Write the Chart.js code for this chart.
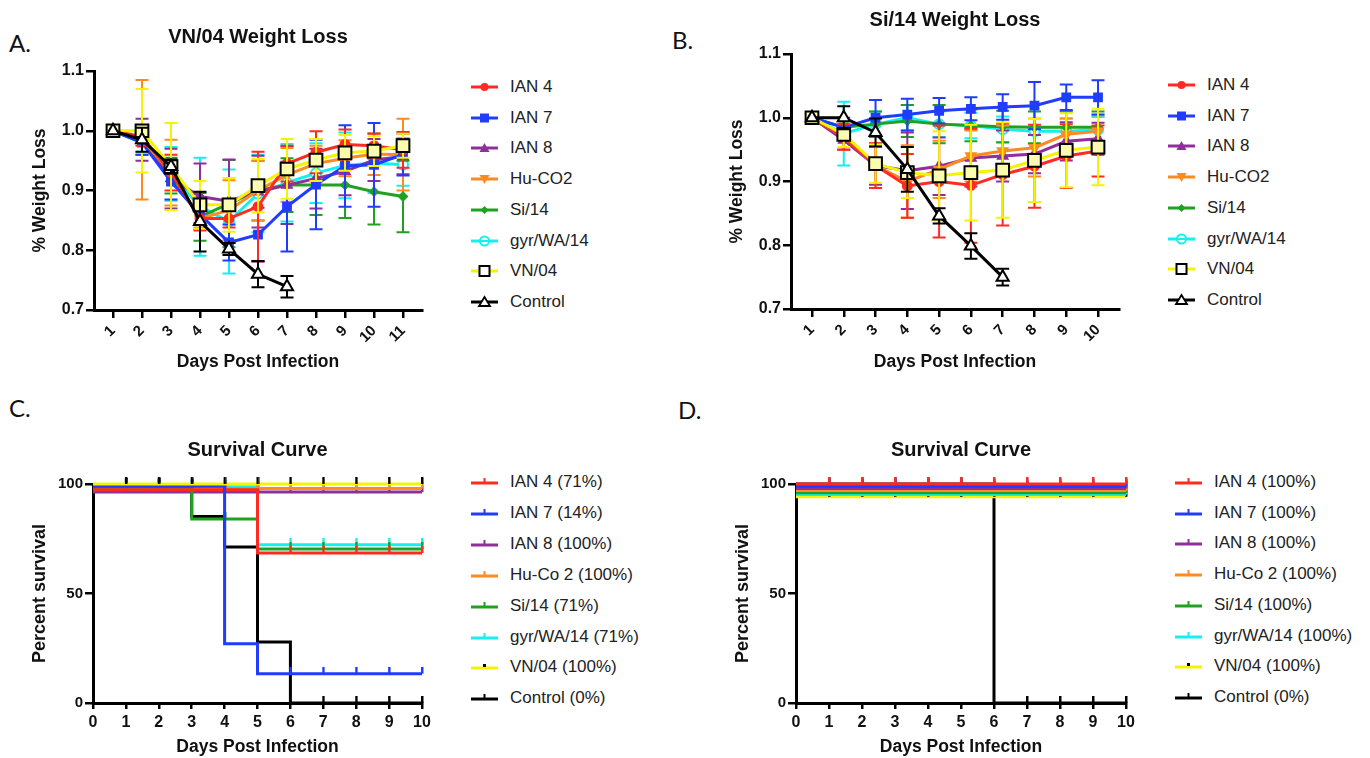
<!DOCTYPE html>
<html><head><meta charset="utf-8">
<script src="https://cdn.jsdelivr.net/npm/chart.js@4/dist/chart.umd.min.js"></script>
<style>
html,body{margin:0;padding:0;background:#fff;}
#page{position:relative;width:1370px;height:758px;overflow:hidden;font-family:'Liberation Sans',Arial,Helvetica,sans-serif;}
canvas{position:absolute;}
.letter{position:absolute;font-family:Lato,'Open Sans',sans-serif;font-size:24px;line-height:24px;color:#111;}
.lg-row{position:absolute;height:20px;display:flex;align-items:center;white-space:nowrap;font-size:17px;color:#222;}
.lg-row svg{margin-right:12px;flex:none;}
</style></head>
<body><div id="page">
<div class="letter" style="left:9px;top:31px">A.</div>
<div class="letter" style="left:672px;top:28px">B.</div>
<div class="letter" style="left:9px;top:396px">C.</div>
<div class="letter" style="left:678px;top:398px">D.</div>
<canvas id="cA" width="440" height="380" style="left:0;top:0"></canvas>
<canvas id="cB" width="450" height="380" style="left:680px;top:0"></canvas>
<canvas id="cC" width="440" height="368" style="left:0;top:390px"></canvas>
<canvas id="cD" width="450" height="368" style="left:690px;top:390px"></canvas>
<div id="legA"></div><div id="legB"></div><div id="legC"></div><div id="legD"></div>
</div>
<script>
// ================= DATA =================
const seriesNames = ['IAN 4','IAN 7','IAN 8','Hu-CO2','Si/14','gyr/WA/14','VN/04','Control'];
const survNamesC = ['IAN 4 (71%)','IAN 7 (14%)','IAN 8 (100%)','Hu-Co 2 (100%)','Si/14 (71%)','gyr/WA/14 (71%)','VN/04 (100%)','Control (0%)'];
const survNamesD = ['IAN 4 (100%)','IAN 7 (100%)','IAN 8 (100%)','Hu-Co 2 (100%)','Si/14 (100%)','gyr/WA/14 (100%)','VN/04 (100%)','Control (0%)'];

const titleA = 'VN/04 Weight Loss';
const titleB = 'Si/14 Weight Loss';
const titleSurv = 'Survival Curve';
const xTitle = 'Days Post Infection';
const yTitleWeight = '% Weight Loss';
const yTitleSurv = 'Percent survival';

const daysA = [1,2,3,4,5,6,7,8,9,10,11];
const daysB = [1,2,3,4,5,6,7,8,9,10];
const daysSurv = [0,1,2,3,4,5,6,7,8,9,10];
const yTicksWeight = [0.7,0.8,0.9,1.0,1.1];
const yTickLabelsWeight = ['0.7','0.8','0.9','1.0','1.1'];
const yTicksSurv = [0,50,100];
const yTickLabelsSurv = ['0','50','100'];

// Panel A: VN/04 weight loss (mean, error)
const ian4A  = [1.000,0.990,0.930,0.853,0.853,0.873,0.945,0.964,0.977,0.975,0.968];
const ian4AErr = [0,0.015,0.03,0.02,0.015,0.092,0.03,0.035,0.025,0.02,0.03];
const ian7A  = [1.000,0.980,0.915,0.860,0.813,0.826,0.873,0.910,0.941,0.943,0.960];
const ian7AErr = [0,0.02,0.03,0.015,0.03,0.045,0.075,0.075,0.068,0.07,0.035];
const ian8A  = [1.000,0.985,0.920,0.890,0.882,0.898,0.909,0.920,0.932,0.951,0.957];
const ian8AErr = [0,0.035,0.05,0.055,0.07,0.06,0.065,0.05,0.04,0.035,0.03];
const huA    = [1.000,0.985,0.930,0.853,0.867,0.900,0.926,0.945,0.954,0.961,0.960];
const huAErr = [0,0.1,0.055,0.015,0.05,0.05,0.045,0.03,0.03,0.035,0.06];
const siA    = [1.000,0.980,0.925,0.856,0.878,0.900,0.909,0.909,0.909,0.898,0.890];
const siAErr = [0,0.02,0.03,0.04,0.073,0.05,0.045,0.05,0.055,0.055,0.06];
const gyrA   = [1.000,0.985,0.928,0.873,0.848,0.895,0.913,0.929,0.942,0.946,0.943];
const gyrAErr = [0,0.02,0.045,0.082,0.087,0.065,0.065,0.05,0.055,0.05,0.035];
const vnA    = [1.000,1.000,0.940,0.876,0.876,0.908,0.936,0.951,0.963,0.966,0.975];
const vnAErr = [0,0.07,0.073,0.04,0.045,0.045,0.05,0.035,0.03,0.025,0.02];
const ctrlA  = [1.000,0.985,0.940,0.848,0.802,0.760,0.739];
const ctrlAErr = [0,0.02,0.012,0.05,0.01,0.022,0.018];

// Panel B: Si/14 weight loss
const ian4B  = [1.000,0.970,0.925,0.893,0.900,0.894,0.911,0.924,0.940,0.948];
const ian4BErr = [0,0.02,0.035,0.05,0.088,0.09,0.08,0.065,0.05,0.04];
const ian7B  = [1.000,0.985,1.000,1.005,1.011,1.014,1.017,1.019,1.032,1.032];
const ian7BErr = [0,0.015,0.028,0.025,0.02,0.018,0.02,0.037,0.02,0.027];
const ian8B  = [1.000,0.965,0.925,0.917,0.924,0.937,0.940,0.943,0.963,0.967];
const ian8BErr = [0,0.015,0.03,0.06,0.045,0.045,0.04,0.03,0.03,0.025];
const huB    = [1.000,0.970,0.925,0.900,0.919,0.940,0.948,0.953,0.974,0.979];
const huBErr = [0,0.02,0.035,0.057,0.045,0.04,0.04,0.045,0.025,0.025];
const siB    = [1.000,0.985,0.990,0.995,0.990,0.988,0.986,0.985,0.985,0.985];
const siBErr = [0,0.01,0.02,0.025,0.03,0.025,0.025,0.025,0.025,0.025];
const gyrB   = [1.000,0.975,0.990,1.000,0.990,0.988,0.982,0.979,0.979,0.981];
const gyrBErr = [0,0.05,0.02,0.02,0.02,0.02,0.02,0.02,0.02,0.02];
const vnB    = [1.000,0.974,0.928,0.914,0.909,0.914,0.918,0.933,0.949,0.954];
const vnBErr = [0,0.02,0.03,0.04,0.07,0.075,0.075,0.065,0.058,0.06];
const ctrlB  = [1.000,1.000,0.977,0.919,0.846,0.799,0.750];
const ctrlBErr = [0,0.018,0.022,0.035,0.012,0.02,0.013];

// Panel C: survival (as drawn, with small plot offsets)
const ian4C = [97.4,97.4,97.4,97.4,97.4,68.5,68.5,68.5,68.5,68.5,68.5];
const ian7C = [99,99,99,99,27.1,13.4,13.4,13.4,13.4,13.4,13.4];
const ian8C = [96.3,96.3,96.3,96.3,96.3,96.3,96.3,96.3,96.3,96.3,96.3];
const huC   = [97.9,97.9,97.9,97.9,97.9,97.9,97.9,97.9,97.9,97.9,97.9];
const siC   = [98.5,98.5,98.5,84,84,70.3,70.3,70.3,70.3,70.3,70.3];
const gyrC  = [98.8,98.8,98.8,98.8,98.8,72.3,72.3,72.3,72.3,72.3,72.3];
const vnC   = [100,100,100,100,100,100,100,100,100,100,100];
const ctrlC = [99.5,99.5,99.5,85.2,71.2,27.9,0,0,0,0,0];

// Panel D: survival
const ian4D = [100,100,100,100,100,100,100,100,100,100,100];
const ian7D = [99,99,99,99,99,99,99,99,99,99,99];
const ian8D = [98,98,98,98,98,98,98,98,98,98,98];
const huD   = [97,97,97,97,97,97,97,97,97,97,97];
const siD   = [96,96,96,96,96,96,96,96,96,96,96];
const gyrD  = [95.2,95.2,95.2,95.2,95.2,95.2,95.2,95.2,95.2,95.2,95.2];
const vnD   = [94.2,94.2,94.2,94.2,94.2,94.2,94.2,94.2,94.2,94.2,94.2];
const ctrlD = [100,100,100,100,100,100,0,0,0,0,0];

// ================= STYLES =================
const FONT = "'Liberation Sans', Arial, Helvetica, sans-serif";
Chart.defaults.font.family = FONT;
Chart.defaults.color = '#111';
const colors = ['#ff2b22','#1f3cff','#8f2f9b','#ff8a22','#21a021','#14f0f0','#f4f400','#000000'];
const pStyle = [
  {s:'circle', r:4.5, fill:colors[0], bc:colors[0]},
  {s:'rect', r:5.5, fill:colors[1], bc:colors[1]},
  {s:'triangle', r:5.5, fill:colors[2], bc:colors[2]},
  {s:'triangle', r:5.5, rot:180, fill:colors[3], bc:colors[3]},
  {s:'rectRot', r:4, fill:colors[4], bc:colors[4]},
  {s:'circle', r:5, fill:'#ffffff', bc:colors[5]},
  {s:'rect', r:9, fill:'#fcfcb0', bc:'#000000'},
  {s:'triangle', r:7, fill:'#ffffff', bc:'#000000'}
];
const drawOrder = [2,3,5,4,6,7,1,0];

const errorBarPlugin = {
  id: 'errbars',
  beforeDatasetDraw(chart, args) {
    const ds = chart.data.datasets[args.index];
    if (!ds.errors) return;
    const ys = chart.scales.y, ctx = chart.ctx;
    ctx.save();
    ctx.strokeStyle = ds.errColor;
    ctx.lineWidth = 2;
    args.meta.data.forEach((pt, j) => {
      const e = ds.errors[j];
      if (!e) return;
      const v = ds.data[j].y;
      const yt = ys.getPixelForValue(v + e), yb = ys.getPixelForValue(v - e);
      ctx.beginPath();
      ctx.moveTo(pt.x, yt); ctx.lineTo(pt.x, yb);
      ctx.moveTo(pt.x - 6.5, yt); ctx.lineTo(pt.x + 6.5, yt);
      ctx.moveTo(pt.x - 6.5, yb); ctx.lineTo(pt.x + 6.5, yb);
      ctx.stroke();
    });
    ctx.restore();
  }
};

function commonAxis(g, xTicks, yTicks, yLabels, yMin, yMax, rot, xFont, yFont, yTitle, xTickLen, yTickLen) {
  return {
    x: {
      type: 'linear', min: g.xmin, max: g.xmax,
      afterBuildTicks: s => { s.ticks = xTicks.map(v => ({value: v})); },
      afterFit: s => { s.height = g.xh; },
      ticks: { autoSkip: false, minRotation: rot, maxRotation: rot, color: '#111', padding: g.xtp,
               font: {size: xFont, weight: 'bold'}, callback: v => String(v) },
      grid: { display: true, drawOnChartArea: false, drawTicks: true, tickLength: xTickLen, color: '#000', lineWidth: 2.5 },
      border: { display: true, color: '#000', width: 3 },
      title: { display: true, text: xTitle, color: '#111', font: {size: 17.5, weight: 'bold'}, padding: {top: 0, bottom: g.xTitlePad} }
    },
    y: {
      type: 'linear', min: yMin, max: yMax,
      afterBuildTicks: s => { s.ticks = yTicks.map(v => ({value: v})); },
      afterFit: s => { s.width = g.yw; },
      ticks: { color: '#111', padding: 2, font: {size: yFont, weight: 'bold'}, callback: (v, i) => yLabels[i] },
      grid: { display: true, drawOnChartArea: false, drawTicks: true, tickLength: yTickLen, color: '#000', lineWidth: 2.5 },
      border: { display: true, color: '#000', width: 3 },
      title: { display: true, text: yTitle, color: '#111', font: {size: g.ytFont, weight: 'bold'}, padding: {top: g.yTitlePad, bottom: 0} }
    }
  };
}

function weightChart(id, days, series, errs, title, g) {
  const datasets = series.map((vals, i) => ({
    label: seriesNames[i],
    data: vals.map((v, j) => ({x: days[j], y: v})),
    errors: errs[i],
    errColor: colors[i],
    borderColor: colors[i],
    backgroundColor: colors[i],
    borderWidth: 3,
    pointStyle: pStyle[i].s,
    pointRotation: pStyle[i].rot || 0,
    pointRadius: pStyle[i].r,
    pointBackgroundColor: pStyle[i].fill,
    pointBorderColor: pStyle[i].bc,
    pointBorderWidth: 2,
    tension: 0,
    order: drawOrder[i],
    clip: false
  }));
  return new Chart(document.getElementById(id), {
    type: 'line',
    data: {datasets},
    plugins: [errorBarPlugin],
    options: {
      responsive: false, animation: false, events: [],
      layout: {padding: {left: 0, right: g.pr, top: g.pt, bottom: 0}},
      plugins: {
        legend: {display: false}, tooltip: {enabled: false},
        title: {display: true, text: title, fullSize: false, color: '#111', font: {size: 20, weight: 'bold'}, padding: {top: 0, bottom: g.tb}}
      },
      scales: commonAxis(g, days, yTicksWeight, yTickLabelsWeight, 0.7, 1.1, 45, 15, 16, yTitleWeight, 8, 8)
    }
  });
}

function tickImg(color) {
  const c = document.createElement('canvas');
  c.width = 4; c.height = 14;
  const x = c.getContext('2d');
  x.fillStyle = color; x.fillRect(1, 0, 2.5, 7);
  return c;
}
const survOrder = [3,2,6,5,4,7,1,8];
const censorColors = [colors[0],colors[1],colors[2],colors[3],colors[4],colors[5],'#000000','#000000'];

function survChart(id, series, g, orders) {
  const datasets = series.map((vals, i) => ({
    label: seriesNames[i],
    data: vals.map((v, j) => ({x: daysSurv[j], y: v})),
    stepped: true,
    borderColor: colors[i],
    backgroundColor: colors[i],
    borderWidth: 3,
    pointStyle: tickImg(censorColors[i]),
    pointRadius: ctx => (ctx.dataIndex > 0 && vals[ctx.dataIndex] === vals[ctx.dataIndex - 1]) ? 4 : 0,
    order: orders[i],
    clip: false
  }));
  return new Chart(document.getElementById(id), {
    type: 'line',
    data: {datasets},
    options: {
      responsive: false, animation: false, events: [],
      layout: {padding: {left: 0, right: g.pr, top: g.pt, bottom: 0}},
      plugins: {
        legend: {display: false}, tooltip: {enabled: false},
        title: {display: true, text: titleSurv, fullSize: false, color: '#111', font: {size: 20, weight: 'bold'}, padding: {top: 0, bottom: g.tb}}
      },
      scales: commonAxis(g, daysSurv, yTicksSurv, yTickLabelsSurv, 0, 100, 0, 16, 15, yTitleSurv, 6, 8)
    }
  });
}

weightChart('cA', daysA, [ian4A, ian7A, ian8A, huA, siA, gyrA, vnA, ctrlA],
  [ian4AErr, ian7AErr, ian8AErr, huAErr, siAErr, gyrAErr, vnAErr, ctrlAErr], titleA,
  {xmin: 0.345, xmax: 11.655, pr: 18, pt: 25, tb: 22, yw: 94, xh: 70, xtp: 4, xTitlePad: 7.5, yTitlePad: 29.5, ytFont: 17.5});
weightChart('cB', daysB, [ian4B, ian7B, ian8B, huB, siB, gyrB, vnB, ctrlB],
  [ian4BErr, ian7BErr, ian8BErr, huBErr, siBErr, gyrBErr, vnBErr, ctrlBErr], titleB,
  {xmin: 0.34, xmax: 10.66, pr: 11, pt: 8, tb: 22, yw: 111, xh: 71, xtp: 4, xTitlePad: 7.8, yTitlePad: 46.5, ytFont: 17.5});
survChart('cC', [ian4C, ian7C, ian8C, huC, siC, gyrC, vnC, ctrlC],
  {xmin: 0, xmax: 10, pr: 18, pt: 48, tb: 22, yw: 93, xh: 55, xtp: 4, xTitlePad: 0, yTitlePad: 29.2, ytFont: 18}, survOrder);
survChart('cD', [ian4D, ian7D, ian8D, huD, siD, gyrD, vnD, ctrlD],
  {xmin: 0, xmax: 10, pr: 14, pt: 48, tb: 22, yw: 106, xh: 55, xtp: 4, xTitlePad: 0, yTitlePad: 42.2, ytFont: 18}, [1,2,3,4,5,6,7,8]);

// ================= LEGENDS (HTML) =================
function markerSvg(i) {
  const c = colors[i], w = 27, h = 16, cx = 13.5, cy = 8;
  let m = '';
  switch (i) {
    case 0: m = `<circle cx="${cx}" cy="${cy}" r="4" fill="${c}"/>`; break;
    case 1: m = `<rect x="${cx-4.5}" y="${cy-4.5}" width="9" height="9" fill="${c}"/>`; break;
    case 2: m = `<polygon points="${cx},${cy-5} ${cx+5},${cy+4} ${cx-5},${cy+4}" fill="${c}"/>`; break;
    case 3: m = `<polygon points="${cx},${cy+5} ${cx+5},${cy-4} ${cx-5},${cy-4}" fill="${c}"/>`; break;
    case 4: m = `<polygon points="${cx},${cy-4} ${cx+4},${cy} ${cx},${cy+4} ${cx-4},${cy}" fill="${c}"/>`; break;
    case 5: m = `<circle cx="${cx}" cy="${cy}" r="4.5" fill="#fff" stroke="${c}" stroke-width="2"/><line x1="${cx-4}" y1="${cy}" x2="${cx+4}" y2="${cy}" stroke="${c}" stroke-width="2"/>`; break;
    case 6: m = `<rect x="${cx-5}" y="${cy-5}" width="10" height="10" fill="#fff" stroke="#000" stroke-width="2"/>`; break;
    case 7: m = `<polygon points="${cx},${cy-5} ${cx+5.5},${cy+4} ${cx-5.5},${cy+4}" fill="#fff" stroke="#000" stroke-width="1.8"/>`; break;
  }
  return `<svg width="${w}" height="${h}"><line x1="0" y1="${cy}" x2="${w}" y2="${cy}" stroke="${c}" stroke-width="3"/>${m}</svg>`;
}
function survSvg(i) {
  const c = colors[i], w = 27, h = 16, cx = 13.5, cy = 9;
  const m = i === 6 ? `<rect x="${cx-1.5}" y="${cy-4}" width="3" height="3" fill="#000"/>`
                    : `<rect x="${cx-1}" y="${cy-5}" width="2" height="5" fill="${censorColors[i]}"/>`;
  return `<svg width="${w}" height="${h}"><line x1="0" y1="${cy}" x2="${w}" y2="${cy}" stroke="${c}" stroke-width="3"/>${m}</svg>`;
}
function buildLegend(elId, names, left, y0, dy, svgFn) {
  const el = document.getElementById(elId);
  names.forEach((n, i) => {
    const row = document.createElement('div');
    row.className = 'lg-row';
    row.style.left = left + 'px';
    row.style.top = (y0 + i * dy - 10) + 'px';
    row.innerHTML = svgFn(i);
    row.appendChild(document.createTextNode(n));
    el.appendChild(row);
  });
}
buildLegend('legA', seriesNames, 471, 87, 30.7, markerSvg);
buildLegend('legB', seriesNames, 1168, 85, 30.7, markerSvg);
buildLegend('legC', survNamesC, 471, 482, 30.9, survSvg);
buildLegend('legD', survNamesD, 1175, 482, 30.7, survSvg);
</script>
</body></html>
